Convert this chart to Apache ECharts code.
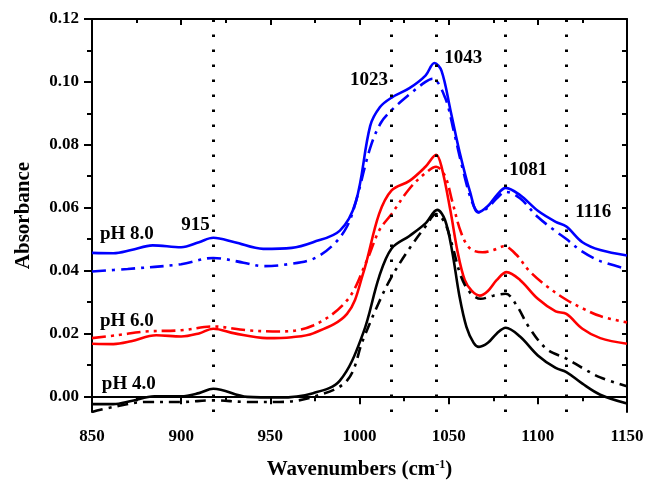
<!DOCTYPE html>
<html>
<head>
<meta charset="utf-8">
<script src="https://cdn.jsdelivr.net/npm/echarts@6/dist/echarts.min.js"></script>
<style>
  html, body { margin: 0; padding: 0; background: #fff; }
  #chart { width: 646px; height: 482px; }
</style>
</head>
<body>
<div id="chart"></div>
<script>
// pH 8.0
var b8x  = [850, 862, 872, 884, 900, 910, 918, 930, 946, 962, 974, 989, 998, 1006, 1011.5, 1018, 1028, 1037, 1042, 1046, 1051, 1056, 1062, 1066.5, 1072, 1077, 1082, 1090, 1100, 1110, 1116, 1125, 1135, 1150];
var b8y  = [0.0456, 0.0455, 0.0465, 0.048, 0.0474, 0.049, 0.0504, 0.049, 0.0469, 0.0472, 0.049, 0.0527, 0.062, 0.086, 0.092, 0.095, 0.098, 0.102, 0.106, 0.1035, 0.091, 0.078, 0.065, 0.0585, 0.0605, 0.064, 0.0663, 0.064, 0.059, 0.0555, 0.054, 0.049, 0.0465, 0.0448];
var b8dx = [850, 870, 900, 918, 935, 946, 960, 974, 985, 993, 998, 1006, 1012, 1018, 1028, 1037, 1041, 1048, 1053, 1058, 1063, 1067, 1072, 1077, 1082, 1090, 1100, 1110, 1116, 1125, 1135, 1150];
var b8dy = [0.0397, 0.0405, 0.042, 0.044, 0.0425, 0.0414, 0.042, 0.0437, 0.048, 0.054, 0.062, 0.079, 0.087, 0.091, 0.096, 0.100, 0.101, 0.095, 0.084, 0.072, 0.062, 0.0585, 0.060, 0.063, 0.065, 0.063, 0.057, 0.0525, 0.050, 0.046, 0.043, 0.0405];
// pH 6.0
var r6x  = [850, 862, 872, 886, 900, 910, 918, 930, 948, 962, 974, 993, 1002, 1011, 1018, 1028, 1037, 1043, 1046, 1051, 1055, 1059, 1063, 1067.5, 1072, 1077, 1082.5, 1090, 1100, 1110, 1116, 1125, 1135, 1150];
var r6y  = [0.0167, 0.0166, 0.0175, 0.0194, 0.019, 0.020, 0.0215, 0.020, 0.0185, 0.0188, 0.020, 0.0262, 0.039, 0.058, 0.0655, 0.0685, 0.073, 0.0768, 0.073, 0.059, 0.046, 0.037, 0.0335, 0.032, 0.0335, 0.037, 0.0395, 0.037, 0.031, 0.027, 0.0262, 0.0215, 0.0185, 0.0167];
var r6dx = [850, 865, 880, 900, 918, 937, 955, 974, 993, 1004, 1011, 1018, 1028, 1037, 1043, 1048, 1052, 1057, 1062, 1069, 1075, 1081, 1088, 1095, 1105, 1116, 1125, 1135, 1150];
var r6dy = [0.0185, 0.0195, 0.0206, 0.021, 0.0222, 0.021, 0.0206, 0.0225, 0.0305, 0.043, 0.0527, 0.058, 0.066, 0.071, 0.073, 0.070, 0.062, 0.052, 0.047, 0.0458, 0.0465, 0.0477, 0.045, 0.040, 0.035, 0.0307, 0.028, 0.0255, 0.0235];
// pH 4.0
var k4x  = [850, 862, 872, 885, 900, 910, 918, 937, 955, 974, 989, 1002, 1011, 1018, 1028, 1037, 1043.6, 1048, 1052, 1056, 1060, 1064, 1067, 1072, 1077, 1082, 1090, 1100, 1110, 1116, 1125, 1135, 1150];
var k4y  = [-0.0025, -0.0025, -0.0015, 0.0, 0.0, 0.001, 0.0024, -0.0002, -0.0004, 0.001, 0.005, 0.020, 0.038, 0.047, 0.051, 0.055, 0.0593, 0.056, 0.046, 0.032, 0.022, 0.017, 0.0157, 0.017, 0.020, 0.0218, 0.019, 0.013, 0.009, 0.0077, 0.004, 0.0005, -0.0023];
var k4dx = [850, 862, 880, 900, 918, 937, 955, 974, 993, 1002, 1011, 1018, 1028, 1037, 1043, 1048, 1052, 1057, 1062, 1068, 1075, 1082, 1088, 1095, 1105, 1116, 1125, 1135, 1150];
var k4dy = [-0.005, -0.0034, -0.0018, -0.0018, -0.0013, -0.0018, -0.0018, -0.0002, 0.005, 0.018, 0.030, 0.038, 0.047, 0.054, 0.058, 0.055, 0.048, 0.038, 0.033, 0.031, 0.032, 0.0326, 0.029, 0.022, 0.015, 0.012, 0.009, 0.006, 0.0032];

var peakLines = [918, 1018, 1043, 1082, 1116];
var yTicks = [0, 0.02, 0.04, 0.06, 0.08, 0.10, 0.12];
var yMinorTicks = [0.01, 0.03, 0.05, 0.07, 0.09, 0.11];

var noteText = ['1023', '1043', '1081', '1116', '915', 'pH 8.0', 'pH 6.0', 'pH 4.0'];
var noteX    = [1016, 1047.5, 1084, 1121, 908, 854.5, 854.5, 855.5];
var noteY    = [0.1005, 0.1075, 0.0718, 0.0585, 0.0545, 0.0515, 0.024, 0.004];
var notePos  = ['left', 'right', 'right', 'right', 'inside', 'right', 'right', 'right'];

function zip(xs, ys) {
  return xs.map(function (x, i) { return [x, ys[i]]; });
}

var font = 'Liberation Serif';
var chart = echarts.init(document.getElementById('chart'));

function curve(name, xs, ys, color, type) {
  return {
    name: name,
    type: 'line',
    data: zip(xs, ys),
    smooth: 0.35,
    symbol: 'none',
    lineStyle: { color: color, width: 2.6, type: type },
    silent: true,
    z: 3
  };
}

var option = {
  animation: false,
  backgroundColor: '#fff',
  grid: { left: 92, right: 19, top: 19, bottom: 70, outerBoundsMode: 'none' },
  xAxis: [
    {
      type: 'value', min: 850, max: 1150, interval: 50,
      name: 'Wavenumbers (cm{sup|-1})',
      nameLocation: 'middle', nameGap: 47,
      nameTextStyle: {
        fontFamily: font, fontWeight: 'bold', fontSize: 21, color: '#000',
        rich: { sup: { fontFamily: font, fontWeight: 'bold', fontSize: 12, verticalAlign: 'top', padding: [0, 0, 10, 0] } }
      },
      axisLine: { lineStyle: { color: '#000', width: 2 } },
      axisTick: { length: 8, lineStyle: { color: '#000', width: 2 } },
      minorTick: { show: true, splitNumber: 2, length: 5, lineStyle: { color: '#000', width: 2 } },
      splitLine: { show: false },
      axisLabel: {
        fontFamily: font, fontWeight: 'bold', fontSize: 17, color: '#000', margin: 16,
        formatter: function (v) { return String(v); }
      }
    },
    {
      type: 'value', min: 850, max: 1150, interval: 50, position: 'top',
      axisLine: { onZero: false, lineStyle: { color: '#000', width: 2 } },
      axisTick: { inside: true, length: 6, lineStyle: { color: '#000', width: 2 } },
      minorTick: { show: true, splitNumber: 2, length: 4, lineStyle: { color: '#000', width: 2 } },
      splitLine: { show: false },
      axisLabel: { show: false }
    }
  ],
  yAxis: [
    {
      type: 'value', min: -0.005, max: 0.12,
      name: 'Absorbance', nameLocation: 'middle', nameGap: 58,
      nameTextStyle: { fontFamily: font, fontWeight: 'bold', fontSize: 21, color: '#000' },
      axisLine: { onZero: false, lineStyle: { color: '#000', width: 2 } },
      axisTick: { customValues: yTicks, length: 8, lineStyle: { color: '#000', width: 2 } },
      splitLine: { show: false },
      axisLabel: {
        customValues: yTicks, fontFamily: font, fontWeight: 'bold', fontSize: 17, color: '#000', margin: 13,
        formatter: function (v) { return v.toFixed(2); }
      }
    },
    {
      type: 'value', min: -0.005, max: 0.12, position: 'left',
      axisLine: { show: false },
      axisTick: { customValues: yMinorTicks, length: 5, lineStyle: { color: '#000', width: 2 } },
      splitLine: { show: false },
      axisLabel: { show: false }
    },
    {
      type: 'value', min: -0.005, max: 0.12, position: 'right',
      axisLine: { onZero: false, lineStyle: { color: '#000', width: 2 } },
      axisTick: { inside: true, customValues: yTicks.concat(yMinorTicks), length: 5, lineStyle: { color: '#000', width: 2 } },
      splitLine: { show: false },
      axisLabel: { show: false }
    }
  ],
  series: [
    {
      name: 'peaks', type: 'line', data: [], silent: true,
      markLine: {
        silent: true, symbol: 'none', animation: false,
        label: { show: false },
        lineStyle: { color: '#000', width: 3, type: [2.5, 12.5] },
        data: peakLines.map(function (v) { return { xAxis: v }; })
      },
      z: 2
    },
    curve('pH 8.0', b8x, b8y, '#0000ff', 'solid'),
    curve('pH 8.0 b', b8dx, b8dy, '#0000ff', [14, 6, 3, 6]),
    curve('pH 6.0', r6x, r6y, '#ff0000', 'solid'),
    curve('pH 6.0 b', r6dx, r6dy, '#ff0000', [14, 5, 3, 5, 3, 5]),
    curve('pH 4.0', k4x, k4y, '#000000', 'solid'),
    curve('pH 4.0 b', k4dx, k4dy, '#000000', [11, 6, 3, 6]),
    {
      name: 'notes', type: 'scatter', symbolSize: 0, silent: true, z: 5,
      itemStyle: { opacity: 1 },
      data: noteText.map(function (t, i) {
        return {
          value: [noteX[i], noteY[i]],
          label: {
            show: true, formatter: t, position: notePos[i], distance: 0,
            fontFamily: font, fontWeight: 'bold', fontSize: 19, color: '#000',
            textBorderWidth: 0, opacity: 1
          }
        };
      })
    }
  ]
};
chart.setOption(option);
</script>
</body>
</html>
